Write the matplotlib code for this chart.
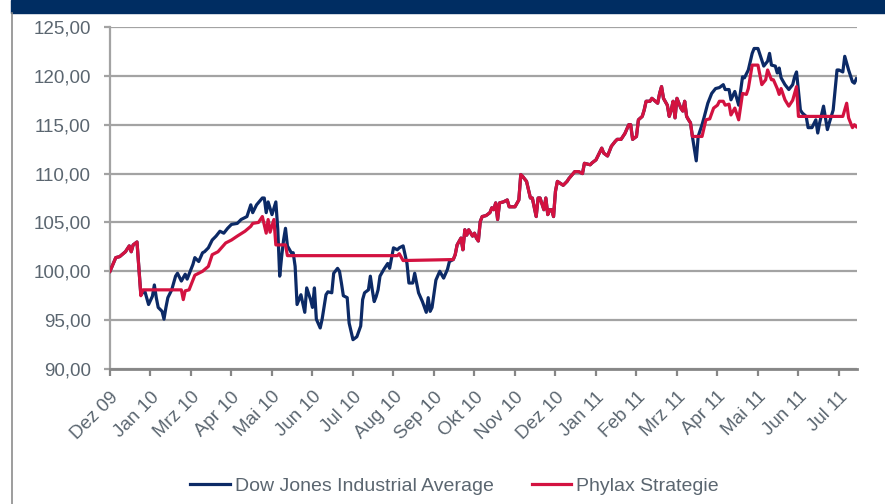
import matplotlib
matplotlib.use("Agg")
import matplotlib.pyplot as plt
from matplotlib.ticker import FuncFormatter
from matplotlib.patches import Rectangle
from matplotlib.lines import Line2D

plt.rcParams['font.family'] = ['Liberation Sans', 'DejaVu Sans']

# month labels, one every 21 trading days
month_labels = ['Dez 09', 'Jan 10', 'Mrz 10', 'Apr 10', 'Mai 10', 'Jun 10', 'Jul 10',
                'Aug 10', 'Sep 10', 'Okt 10', 'Nov 10', 'Dez 10', 'Jan 11', 'Feb 11',
                'Mrz 11', 'Apr 11', 'Mai 11', 'Jun 11', 'Jul 11']
days_per_label = 21

# both series identical at the start
start_days = [0, 3, 5, 8, 10, 11, 12, 14]
start_vals = [100.0, 101.4, 101.5, 102.0, 102.6, 102.0, 102.7, 103.0]

# both series identical in the middle part (Sep 10 - Mrz 11)
common_days = [178, 179, 180, 182, 183, 184, 185, 186, 188, 189, 190, 191, 192, 193, 195,
               197, 198, 199, 200, 201, 202, 204, 206, 207, 210, 212, 213, 214, 216, 218,
               219, 221, 222, 223, 225, 226, 227, 228, 229, 230, 231, 232, 235, 237, 238,
               241, 243, 245, 246, 249, 250, 252, 255, 256, 258, 260, 262, 263, 265, 267,
               269, 270, 271, 273, 274, 276, 277, 278, 280, 281, 284, 285, 286, 287, 289,
               290, 291, 292, 293, 294, 296, 297, 298, 299, 300]
common_vals = [101.2, 101.7, 102.7, 103.4, 102.2, 104.25, 103.7, 104.25, 103.6, 103.9, 103.4,
               103.1, 105.1, 105.6, 105.7, 106.0, 106.5, 106.3, 107.0, 105.3, 107.0, 107.1,
               107.3, 106.6, 106.6, 107.3, 109.9, 109.7, 109.2, 107.5, 107.5, 105.6, 107.5,
               107.5, 106.3, 107.5, 105.8, 106.3, 106.3, 105.6, 108.2, 109.2, 108.8, 109.2,
               109.5, 110.2, 110.2, 110.0, 111.05, 110.9, 111.1, 111.4, 112.6, 112.1, 111.8,
               112.8, 113.3, 113.5, 113.5, 114.1, 115.0, 115.0, 113.5, 113.8, 115.5, 115.85,
               116.5, 117.4, 117.4, 117.7, 117.2, 118.2, 118.9, 117.7, 117.0, 115.85, 116.5,
               117.4, 115.7, 117.7, 116.7, 116.4, 117.4, 115.85, 115.5]

# Dow Jones only
dow_mid_days = [16, 18, 20, 22, 23, 24, 25, 27, 28, 29, 30, 32, 34, 35, 37, 39, 40, 43, 44,
                46, 48, 49, 51, 53, 55, 57, 59, 61, 63, 66, 68, 71, 73, 74, 76, 79, 80, 81,
                82, 84, 86, 87, 88, 89, 90, 91, 92, 94, 95, 96, 97, 99, 101, 102, 104, 105,
                106, 107, 109, 110, 112, 113, 115, 116, 118, 119, 120, 121, 123, 124, 126,
                128, 130, 131, 132, 134, 135, 136, 137, 138, 139, 140, 142, 144, 145, 147,
                149, 150, 152, 154, 155, 157, 158, 159, 160, 162, 164, 165, 166, 167, 169,
                171, 173, 175, 176]
dow_mid_vals = [97.6, 98.0, 96.6, 97.45, 98.6, 97.3, 96.3, 95.9, 95.1, 96.3, 97.3, 98.1, 99.5,
                99.8, 99.0, 99.7, 99.2, 100.7, 101.4, 101.0, 101.9, 102.0, 102.4, 103.2, 103.6,
                104.1, 103.9, 104.4, 104.8, 104.9, 105.3, 105.6, 106.8, 106.0, 106.8, 107.5,
                107.5, 106.0, 107.1, 105.8, 107.1, 104.3, 99.5, 101.5, 103.2, 104.4, 102.6,
                101.9, 101.9, 100.5, 96.6, 97.6, 95.8, 98.3, 97.1, 96.3, 98.3, 95.1, 94.2, 95.1,
                97.6, 97.9, 97.8, 99.8, 100.3, 100.0, 98.8, 97.5, 97.3, 94.7, 93.0, 93.3, 94.4,
                97.1, 97.8, 98.1, 99.5, 98.1, 96.9, 97.4, 98.1, 99.5, 100.2, 100.8, 100.3,
                102.4, 102.2, 102.4, 102.6, 100.8, 98.8, 98.8, 99.8, 98.8, 97.8, 96.9, 95.8,
                97.3, 95.9, 96.3, 99.1, 100.0, 99.3, 100.2, 101.0]
dow_end_days = [301, 302, 304, 305, 307, 308, 310, 312, 314, 316, 318, 319, 321, 322, 324,
                326, 328, 329, 331, 333, 334, 336, 338, 339, 341, 342, 343, 345, 346, 347,
                348, 350, 352, 354, 355, 356, 358, 359, 361, 362, 364, 366, 367, 368, 370,
                372, 373, 375, 377, 378, 380, 381, 383, 385, 386, 387]
dow_end_vals = [115.2, 113.8, 111.3, 113.8, 115.0, 115.7, 117.2, 118.2, 118.7, 118.8, 119.1,
                118.6, 118.6, 117.55, 118.4, 117.0, 119.9, 119.8, 120.6, 122.3, 122.8, 122.8,
                121.6, 121.0, 121.5, 122.3, 121.1, 121.0, 120.3, 120.8, 119.8, 119.1, 118.6,
                119.1, 119.9, 120.4, 116.5, 116.2, 115.85, 114.7, 114.7, 115.5, 114.15, 115.2,
                116.9, 114.5, 115.2, 116.5, 120.6, 120.6, 120.4, 122.0, 120.6, 119.4, 119.25,
                119.7]

# Phylax only
phy_mid_days = [16, 17, 37, 38, 39, 41, 44, 48, 51, 53, 56, 60, 63, 66, 70, 73, 74, 77, 79,
                81, 82, 83, 85, 86, 91, 92, 149, 150, 152, 177]
phy_mid_vals = [97.5, 98.1, 98.1, 97.1, 98.0, 98.1, 99.6, 100.0, 100.5, 101.7, 102.0, 102.9,
                103.2, 103.6, 104.1, 104.6, 104.9, 105.0, 105.6, 103.9, 105.3, 104.0, 105.3,
                102.7, 102.7, 101.6, 101.6, 101.8, 101.1, 101.2]
phy_end_days = [301, 302, 307, 309, 311, 313, 315, 316, 318, 319, 321, 322, 324, 326, 328,
                330, 331, 333, 336, 338, 340, 341, 343, 344, 346, 347, 348, 350, 352, 354,
                356, 357, 380, 382, 383, 385, 386, 387]
phy_end_vals = [115.2, 113.8, 113.8, 115.5, 115.6, 116.7, 117.0, 117.4, 117.4, 117.0, 117.1,
                116.0, 116.7, 115.5, 118.2, 118.1, 118.7, 121.1, 121.1, 119.1, 119.6, 120.6,
                119.6, 119.6, 118.7, 118.1, 118.7, 117.55, 116.9, 117.5, 118.9, 115.85, 115.85,
                117.2, 115.7, 114.7, 115.0, 114.8]

dow_x = start_days + dow_mid_days + common_days + dow_end_days
dow_y = start_vals + dow_mid_vals + common_vals + dow_end_vals
phy_x = start_days + phy_mid_days + common_days + phy_end_days
phy_y = start_vals + phy_mid_vals + common_vals + phy_end_vals

navy = '#0c2a66'
red = '#d31240'
grid_col = '#a3a3a3'
text_col = '#5b6670'

fig = plt.figure(figsize=(8.85, 5.04), dpi=100)

# dark header band and left frame line
fig.patches.append(Rectangle((11 / 885, 1 - 13 / 504), 1, 13 / 504,
                             transform=fig.transFigure, color='#002d62', zorder=0))
fig.lines.append(Line2D([11.5 / 885, 11.5 / 885], [0, 1 - 13 / 504],
                        transform=fig.transFigure, color='#8c8c8c', lw=1.2))

ax = fig.add_axes([110 / 885, 1 - 369 / 504, (856.7 - 110) / 885, (369 - 27) / 504])

ax.plot(dow_x, dow_y, color=navy, lw=2.3, label='Dow Jones Industrial Average',
        solid_joinstyle='round', zorder=3)
ax.plot(phy_x, phy_y, color=red, lw=2.3, label='Phylax Strategie',
        solid_joinstyle='round', zorder=4)

ax.set_ylim(90, 125)
ax.set_xlim(0, 387.2)
ax.set_yticks(range(90, 126, 5))
ax.yaxis.set_major_formatter(FuncFormatter(lambda v, p: f"{v:.2f}".replace('.', ',')))
ax.grid(axis='y', color=grid_col, lw=1.6, zorder=1)
ax.set_axisbelow(True)

ax.set_xticks([i * days_per_label for i in range(len(month_labels))])
ax.set_xticklabels(month_labels, rotation=45, ha='right', va='top', rotation_mode='anchor')

for s in ['top', 'right']:
    ax.spines[s].set_visible(False)
ax.spines['left'].set_color(grid_col)
ax.spines['left'].set_linewidth(1.6)
ax.spines['bottom'].set_color('#868686')
ax.spines['bottom'].set_linewidth(2)

ax.tick_params(axis='y', colors=grid_col, length=4.3, width=1.6, pad=9.4,
               labelcolor=text_col, labelsize=13.5)
ax.tick_params(axis='x', colors='#868686', length=5, width=1.6, pad=9,
               labelcolor=text_col, labelsize=13.5)

fig.legend(loc='center', bbox_to_anchor=(0.5136, 1 - 486 / 504), ncol=2, frameon=False,
           fontsize=14, handlelength=2.05, handletextpad=0.25, columnspacing=1.95,
           labelcolor=text_col)

fig.savefig('out.png', dpi=100)
